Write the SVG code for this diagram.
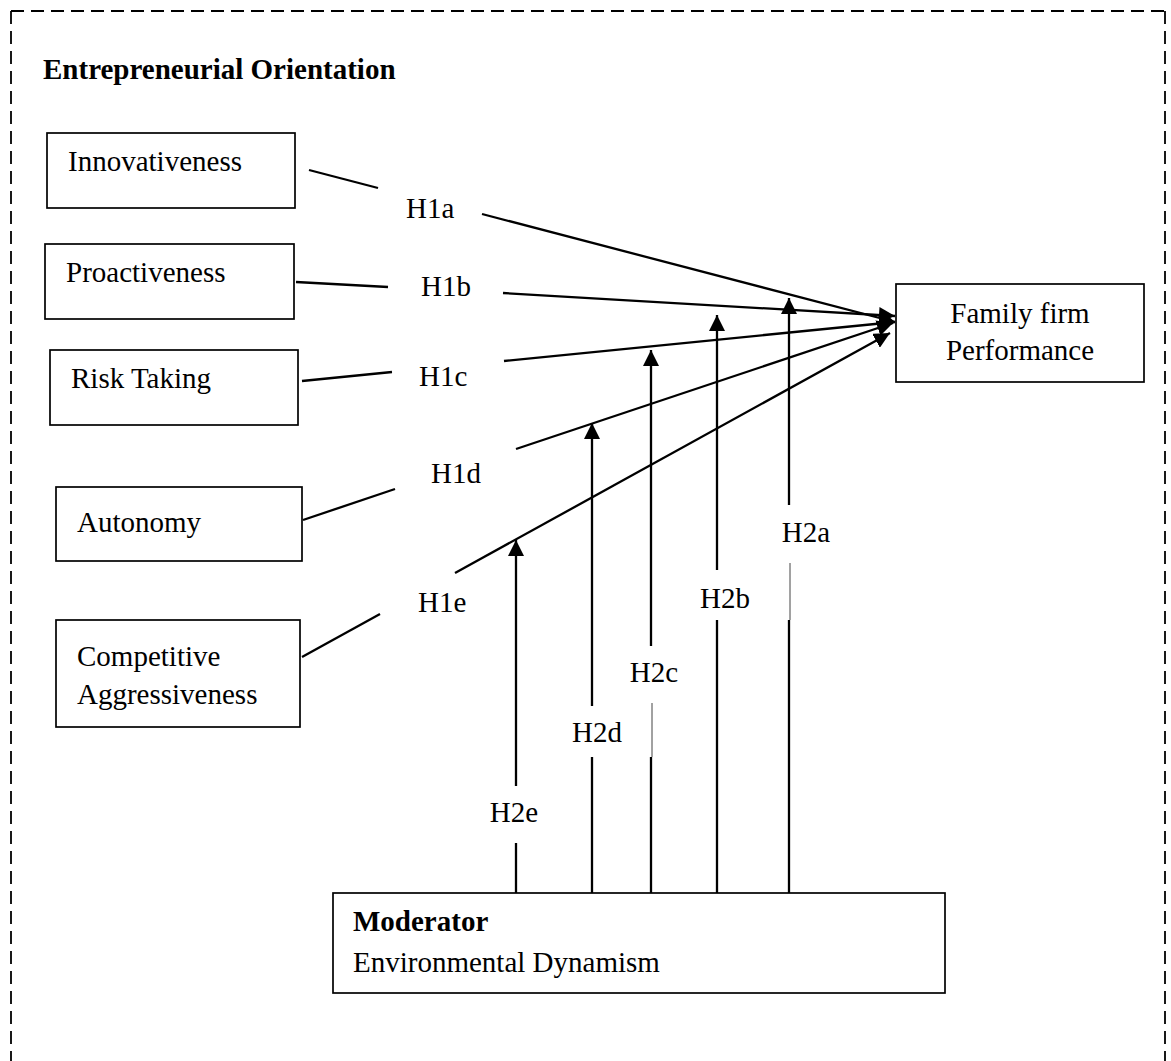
<svg xmlns="http://www.w3.org/2000/svg" width="1171" height="1061" viewBox="0 0 1171 1061">
  <style>
    .box { fill: #fff; stroke: #000; stroke-width: 1.7; }
    .lbl { font-family: "Liberation Serif", "Times New Roman", serif; font-size: 29px; fill: #000; }
    .bold { font-weight: bold; }
    .mid { text-anchor: middle; }
    .edge { stroke: #000; stroke-width: 2.3; fill: none; }
    .thin { stroke: #444; stroke-width: 1; fill: none; }
    .frame { stroke: #000; stroke-width: 1.8; fill: none; stroke-dasharray: 13 7; }
  </style>
  <defs>
    <marker id="arrow" viewBox="0 0 16 16" markerWidth="16" markerHeight="16" refX="16" refY="8" orient="auto" markerUnits="userSpaceOnUse">
      <path d="M0,0 L16,8 L0,16 z" fill="#000"/>
    </marker>
  </defs>
  <rect width="1171" height="1061" fill="#fff"/>

  <!-- dashed frame (open at the bottom) -->
  <g id="frame">
    <line class="frame" x1="11" y1="11" x2="1165" y2="11"/>
    <line class="frame" x1="11" y1="11" x2="11" y2="1061"/>
    <line class="frame" x1="1165" y1="11" x2="1165" y2="1061"/>
    <text class="lbl bold" x="43" y="79">Entrepreneurial Orientation</text>
  </g>

  <!-- connectors -->
  <g id="connectors">
    <!-- H1: dimensions to performance -->
    <line class="edge" x1="309" y1="170" x2="378" y2="188"/>
    <line class="edge" x1="482" y1="214" x2="895" y2="322" marker-end="url(#arrow)"/>
    <line class="edge" x1="296" y1="282" x2="388" y2="287"/>
    <line class="edge" x1="503" y1="293" x2="895" y2="316" marker-end="url(#arrow)"/>
    <line class="edge" x1="302" y1="381" x2="392" y2="372"/>
    <line class="edge" x1="504" y1="361" x2="895" y2="322" marker-end="url(#arrow)"/>
    <line class="edge" x1="303" y1="520" x2="395" y2="489"/>
    <line class="edge" x1="516" y1="449" x2="893" y2="323" marker-end="url(#arrow)"/>
    <line class="edge" x1="302" y1="657" x2="380" y2="614"/>
    <line class="edge" x1="455" y1="573" x2="890" y2="333" marker-end="url(#arrow)"/>

    <!-- H2: moderator onto each path -->
    <line class="edge" x1="789" y1="893" x2="789" y2="620"/>
    <line class="thin" x1="790" y1="620" x2="790" y2="563"/>
    <line class="edge" x1="789" y1="505" x2="789" y2="298" marker-end="url(#arrow)"/>

    <line class="edge" x1="717" y1="893" x2="717" y2="620"/>
    <line class="edge" x1="717" y1="570" x2="717" y2="315" marker-end="url(#arrow)"/>

    <line class="edge" x1="651" y1="893" x2="651" y2="757"/>
    <line class="thin" x1="652" y1="757" x2="652" y2="703"/>
    <line class="edge" x1="651" y1="646" x2="651" y2="350" marker-end="url(#arrow)"/>

    <line class="edge" x1="592" y1="893" x2="592" y2="757"/>
    <line class="edge" x1="592" y1="706" x2="592" y2="423" marker-end="url(#arrow)"/>

    <line class="edge" x1="516" y1="893" x2="516" y2="843"/>
    <line class="edge" x1="516" y1="786" x2="516" y2="540" marker-end="url(#arrow)"/>

    <!-- path labels -->
    <text class="lbl" x="406" y="218">H1a</text>
    <text class="lbl" x="421" y="296">H1b</text>
    <text class="lbl" x="419" y="386">H1c</text>
    <text class="lbl" x="431" y="483">H1d</text>
    <text class="lbl" x="418" y="612">H1e</text>
    <text class="lbl mid" x="806" y="542">H2a</text>
    <text class="lbl mid" x="725" y="608">H2b</text>
    <text class="lbl mid" x="654" y="682">H2c</text>
    <text class="lbl mid" x="597" y="742">H2d</text>
    <text class="lbl mid" x="514" y="822">H2e</text>
  </g>

  <g id="innovativeness">
    <rect class="box" x="47" y="133" width="248" height="75"/>
    <text class="lbl" x="68" y="171">Innovativeness</text>
  </g>
  <g id="proactiveness">
    <rect class="box" x="45" y="244" width="249" height="75"/>
    <text class="lbl" x="66" y="282">Proactiveness</text>
  </g>
  <g id="risk-taking">
    <rect class="box" x="50" y="350" width="248" height="75"/>
    <text class="lbl" x="71" y="388">Risk Taking</text>
  </g>
  <g id="autonomy">
    <rect class="box" x="56" y="487" width="246" height="74"/>
    <text class="lbl" x="77" y="532">Autonomy</text>
  </g>
  <g id="competitive-aggressiveness">
    <rect class="box" x="56" y="620" width="244" height="107"/>
    <text class="lbl" x="77" y="666">Competitive</text>
    <text class="lbl" x="77" y="704">Aggressiveness</text>
  </g>
  <g id="performance">
    <rect class="box" x="896" y="284" width="248" height="98"/>
    <text class="lbl mid" x="1020" y="323">Family firm</text>
    <text class="lbl mid" x="1020" y="360">Performance</text>
  </g>
  <g id="moderator">
    <rect class="box" x="333" y="893" width="612" height="100"/>
    <text class="lbl bold" x="353" y="931">Moderator</text>
    <text class="lbl" x="353" y="972">Environmental Dynamism</text>
  </g>
</svg>
